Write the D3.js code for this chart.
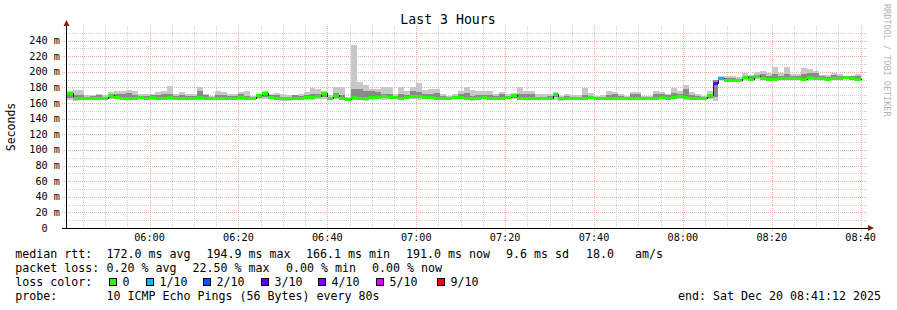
<!DOCTYPE html>
<html>
<head>
<meta charset="utf-8"/>
<title>Last 3 Hours</title>
<script src="https://d3js.org/d3.v7.min.js"></script>
<style>
  body { margin: 0; background: #fff; }
  svg text { font-family: "DejaVu Sans Mono", monospace; fill: #000; white-space: pre; }
</style>
</head>
<body>
<svg width="897" height="310"></svg>
<script>
// median rtt per 80s step (ms)
var medianRtt = [
  173,167,167,167,167,167,167,170,168,167,
  167,167,168,167,168,167,167,168,167,167,
  166,167,168,167,167,167,166,167,167,168,
  167,167,170,173,168,167,166,166,167,167,
  168,168,169,173,167,170,167,165.5,168,167,
  166,168,168,169,168,168,167,168,169,169,
  168,168,167,167,167,168,168,167,166,167,
  168,167,167,167,168,170,167,167,167,166,
  166,167,172,166,167,167,167,167,168,167,
  167,167,166,166,167,167,167,166,167,167,
  168,167,168,169,168,166,166,166,170,186,
  192,190,190,190,193,191,194,192,191,191,
  192,192,192,192,191,193,192,192,191,192,
  192,193,192,191
];
var pingMax = [
  175,177,177,170,170,171,170,174,176,176,
  177,176,171,171,172,174,176,182,172,174,
  171,171,180,172,169,176,174,172,171,174,
  175,169,172,175,171,173,171,170,170,171,
  174,179,178,175,170,180,181,168,234,187,
  183,178,178,181,181,172,181,175,181,186,
  177,178,178,172,169,172,175,181,177,175,
  176,176,171,174,171,173,180,175,175,171,
  171,171,174,169,171,170,170,179,173,169,
  170,176,174,172,169,174,174,169,169,175,
  174,172,179,176,183,174,172,169,175,190,
  194,195,194,193,198,196,200,201,199,206,
  199,206,197,197,205,203,201,196,196,199,
  197,195,195,197
];
var pingMin = [
  164,163,164,165,165,164,165,165,165,164,
  164,165,165,165,164,165,165,164,165,165,
  164,165,164,165,165,164,164,165,165,164,
  165,164,165,165,165,164,163,163,165,165,
  164,164,165,165,164,165,164,162,164,164,
  163,164,165,164,165,165,165,165,165,164,
  165,165,164,165,165,165,165,164,163,164,
  165,165,165,164,165,165,165,165,164,164,
  164,164,164,163,165,165,165,165,165,165,
  165,164,164,164,165,165,165,164,164,164,
  165,165,165,165,164,164,164,164,165,162,
  189,189,189,189,190,190,191,190,190,190,
  190,190,190,190,190,190,190,190,190,190,
  190,191,190,190
];
var pingHighQ = [
  172,170,170,168,169,170,168,171,172,172,
  173,170,169,169,170,170,172,172,169,170,
  169,169,175,170,168,170,170,169,169,171,
  169,168,171,173,170,170,168,167,170,169,
  170,172,172,174,168,173,170,166,178,178,
  176,175,174,172,171,169,172,170,175,174,
  171,172,173,169,168,169,171,173,169,170,
  170,170,169,172,169,171,172,171,172,168,
  168,169,173,167,169,168,168,170,169,168,
  168,170,171,169,168,172,171,168,168,172,
  171,170,173,171,178,170,169,168,172,189,
  193,192,192,191,195,194,196,197,195,197,
  195,197,194,195,197,199,198,194,193,196,
  194,194,194,194
];
var pingLowQ = [
  166,165,166,166,166,166,166,167,166,166,
  166,166,166,166,166,166,166,166,166,166,
  165,166,166,166,166,166,165,166,166,166,
  166,165,167,168,166,166,165,164,166,166,
  166,166,167,168,165,167,166,163,166,165,
  165,166,166,166,166,166,166,166,167,166,
  166,166,166,166,166,166,166,165,165,166,
  166,166,166,166,166,167,166,166,166,165,
  165,165,168,164,166,166,166,166,166,166,
  166,166,165,165,166,166,166,165,165,166,
  166,166,166,167,166,165,165,165,167,168,
  190,190,190,190,191,190,192,191,190,190,
  191,191,190,191,190,191,191,190,190,191,
  191,191,191,191
];
// lost pings (of 10) per step
var lossPings = [
  0,0,0,0,0,0,0,0,0,0, 0,0,0,0,0,0,0,0,0,0,
  0,0,0,0,0,0,0,0,0,0, 0,0,0,0,0,0,0,0,0,0,
  0,0,0,0,0,0,0,0,0,0, 0,0,0,0,0,0,0,0,0,0,
  0,0,0,0,0,0,0,0,0,0, 0,0,0,0,0,0,0,0,0,0,
  0,0,0,0,0,0,0,0,0,0, 0,0,0,0,0,0,0,0,0,0,
  0,0,0,0,0,0,0,0,0,2.25, 0.45,0,0,0,0,0,0,0,0,0,
  0,0,0,0,0,0,0,0,0,0, 0,0,0,0
];

var lossLabels = ["0", "1/10", "2/10", "3/10", "4/10", "5/10", "9/10"];
var lossColors = ["#26ff00", "#00b8ff", "#0059ff", "#5e00ff", "#7e00ff", "#dd00ff", "#ff0000"];
var lossLimits = [0, 1, 2, 3, 4, 5, 10];
var yTicks = [0, 20, 40, 60, 80, 100, 120, 140, 160, 180, 200, 220, 240];

var rttItems = ["172.0 ms avg", "194.9 ms max", "166.1 ms min", "191.0 ms now", "9.6 ms sd", "18.0   am/s"];
var lossItems = ["0.20 % avg", "22.50 % max", "0.00 % min", "0.00 % now"];
var probeText = "10 ICMP Echo Pings (56 Bytes) every 80s";
var endText = "end: Sat Dec 20 08:41:12 2025";

var tStart = new Date(2025, 11, 20, 5, 41, 12),
    tEnd = new Date(2025, 11, 20, 8, 41, 12),
    dataStart = new Date(2025, 11, 20, 5, 41, 20),
    stepMs = 80000;

var svg = d3.select("svg");
var x = d3.scaleTime().domain([tStart, tEnd]).range([66, 866]);
var y = d3.scaleLinear().domain([0, 256]).range([228, 28]);

function stepTime(i) { return new Date(dataStart.getTime() + i * stepMs); }
function sx(i) { return Math.round(x(stepTime(i))); }

// grid
var grid = svg.append("g").attr("shape-rendering", "crispEdges");
var minorColor = "#cfcfcf", majorColor = "#f7a8a8";

d3.range(10, 256, 10).forEach(function(v) {
  var major = v % 20 === 0;
  grid.append("line")
    .attr("x1", major ? 62 : 64).attr("x2", 868)
    .attr("y1", Math.round(y(v)) + 0.5).attr("y2", Math.round(y(v)) + 0.5)
    .attr("stroke", major ? majorColor : minorColor)
    .attr("stroke-dasharray", "1,1");
});
x.ticks(d3.timeMinute.every(5)).forEach(function(t) {
  var major = t.getMinutes() % 20 === 0;
  grid.append("line")
    .attr("x1", Math.round(x(t)) + 0.5).attr("x2", Math.round(x(t)) + 0.5)
    .attr("y1", 26).attr("y2", major ? 231 : 229)
    .attr("stroke", major ? majorColor : minorColor)
    .attr("stroke-dasharray", "1,1");
});

// smoke
var plot = svg.append("g").attr("shape-rendering", "crispEdges");
plot.selectAll("rect.outer").data(medianRtt).enter().append("rect")
  .attr("class", "outer")
  .attr("x", function(d, i) { return sx(i); })
  .attr("width", function(d, i) { return sx(i + 1) - sx(i); })
  .attr("y", function(d, i) { return y(pingMax[i]); })
  .attr("height", function(d, i) { return y(pingMin[i]) - y(pingMax[i]); })
  .attr("fill", "#c8c8c8");
plot.selectAll("rect.inner").data(medianRtt).enter().append("rect")
  .attr("class", "inner")
  .attr("x", function(d, i) { return sx(i); })
  .attr("width", function(d, i) { return sx(i + 1) - sx(i); })
  .attr("y", function(d, i) { return y(pingHighQ[i]); })
  .attr("height", function(d, i) { return y(pingLowQ[i]) - y(pingHighQ[i]); })
  .attr("fill", "#8a8a8a");

// median line
var pts = medianRtt.map(function(d, i) { return [stepTime(i), d]; });
pts.push([stepTime(medianRtt.length), medianRtt[medianRtt.length - 1]]);
plot.append("path")
  .attr("d", d3.line().curve(d3.curveStepAfter)
    .x(function(d) { return Math.round(x(d[0])) + 0.5; })
    .y(function(d) { return Math.round(y(d[1])) + 0.5; })(pts))
  .attr("fill", "none").attr("stroke", "#202020").attr("stroke-width", 1);

function lossColor(l) {
  for (var j = 0; j < lossLimits.length; j++) if (l <= lossLimits[j]) return lossColors[j];
  return lossColors[lossColors.length - 1];
}
plot.selectAll("rect.med").data(medianRtt).enter().append("rect")
  .attr("class", "med")
  .attr("x", function(d, i) { return sx(i); })
  .attr("width", function(d, i) { return sx(i + 1) - sx(i); })
  .attr("y", function(d) { return Math.round(y(d)) - 1.5; })
  .attr("height", 3.5)
  .attr("fill", function(d, i) { return lossColor(lossPings[i]); });

// axes
svg.append("line").attr("x1", 62).attr("x2", 869).attr("y1", 228.5).attr("y2", 228.5)
  .attr("stroke", "#000").attr("shape-rendering", "crispEdges");
svg.append("line").attr("x1", 66.5).attr("x2", 66.5).attr("y1", 229).attr("y2", 24)
  .attr("stroke", "#000").attr("shape-rendering", "crispEdges");
svg.append("path").attr("d", "M63.5,26L69.5,26L66.5,20Z").attr("fill", "#8b1a1a");
svg.append("path").attr("d", "M868,225L868,231L874,228Z").attr("fill", "#8b1a1a");

// tick labels
svg.append("g").selectAll("text").data(yTicks).enter().append("text")
  .attr("x", 60).attr("y", function(d) { return y(d) + 3.5; })
  .attr("text-anchor", "end")
  .attr("font-size", "10.2px")
  .text(function(d) { return d === 0 ? "0  " : d + " m"; });

svg.append("g").selectAll("text").data(x.ticks(d3.timeMinute.every(20))).enter().append("text")
  .attr("x", function(d) { return x(d); }).attr("y", 241)
  .attr("text-anchor", "middle")
  .attr("font-size", "10.2px")
  .text(d3.timeFormat("%H:%M"));

// title, unit, watermark
svg.append("text").attr("x", 448).attr("y", 24).attr("text-anchor", "middle")
  .attr("font-size", "13.2px").text("Last 3 Hours");
svg.append("text").attr("transform", "translate(15,127) rotate(-90)")
  .attr("text-anchor", "middle").attr("font-size", "11.5px").text("Seconds");
svg.append("text").attr("transform", "translate(884,4) rotate(90)")
  .attr("font-size", "8.5px").style("fill", "#b4b4b4").text("RRDTOOL / TOBI OETIKER");

// legend
var leg = svg.append("g").attr("font-size", "11.63px");
leg.append("text").attr("x", 15.3).attr("y", 258).text("median rtt:");
var rttX = [106.5, 206.5, 306, 406, 506, 586];
rttItems.forEach(function(s, i) { leg.append("text").attr("x", rttX[i]).attr("y", 258).text(s); });

leg.append("text").attr("x", 15.3).attr("y", 272).text("packet loss:");
var lossX = [106.5, 192.5, 286, 372];
lossItems.forEach(function(s, i) { leg.append("text").attr("x", lossX[i]).attr("y", 272).text(s); });

leg.append("text").attr("x", 15.3).attr("y", 286).text("loss color:");
var boxX = [109, 146, 203, 261, 318, 376, 437];
lossLabels.forEach(function(s, i) {
  leg.append("rect").attr("x", boxX[i] + 0.5).attr("y", 278.5).attr("width", 7).attr("height", 7)
    .attr("fill", lossColors[i]).attr("stroke", "#000").attr("shape-rendering", "crispEdges");
  leg.append("text").attr("x", boxX[i] + 13.5).attr("y", 286).text(s);
});

leg.append("text").attr("x", 15.3).attr("y", 300).text("probe:");
leg.append("text").attr("x", 106.5).attr("y", 300).text(probeText);
leg.append("text").attr("x", 881).attr("y", 300).attr("text-anchor", "end").text(endText);
</script>
</body>
</html>
